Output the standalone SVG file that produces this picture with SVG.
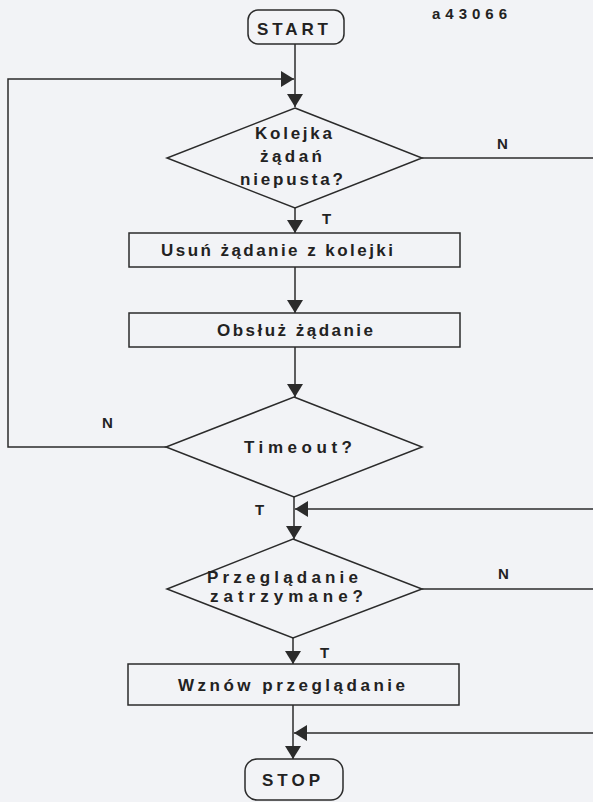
<svg xmlns="http://www.w3.org/2000/svg" width="593" height="802" viewBox="0 0 593 802">
  <defs>
    <marker id="arr" markerUnits="userSpaceOnUse" markerWidth="14" markerHeight="16" refX="13" refY="8" orient="auto">
      <path d="M0,0 L13,8 L0,16 z" fill="#2b2b2b"/>
    </marker>
    <style>
      .shape { fill: none; stroke: #2b2b2b; stroke-width: 1.5; }
      .conn { fill: none; stroke: #2b2b2b; stroke-width: 1.5; }
      .t { font-family: "Liberation Sans", Arial, sans-serif; font-weight: bold; fill: #222; font-size: 17px; }
      .big { font-size: 17px; }
      .lab { font-size: 15px; }
    </style>
  </defs>
  <rect x="0" y="0" width="593" height="802" fill="#f2f3f6"/>
  <text class="t lab" x="432" y="19" textLength="75" lengthAdjust="spacing">a43066</text>

  <g id="connectors">
    <path class="conn" d="M295,44 V107" marker-end="url(#arr)"/>
    <path class="conn" d="M166,447 H8 V79 H294" marker-end="url(#arr)"/>
    <path class="conn" d="M422,158 H593"/>
    <path class="conn" d="M295,208 V233" marker-end="url(#arr)"/>
    <path class="conn" d="M295,267 V313" marker-end="url(#arr)"/>
    <path class="conn" d="M295,347 V397" marker-end="url(#arr)"/>
    <path class="conn" d="M294,497 V539" marker-end="url(#arr)"/>
    <path class="conn" d="M593,509 H295" marker-end="url(#arr)"/>
    <path class="conn" d="M422,589 H593"/>
    <path class="conn" d="M293,638 V664" marker-end="url(#arr)"/>
    <path class="conn" d="M293,705 V759" marker-end="url(#arr)"/>
    <path class="conn" d="M593,733 H294" marker-end="url(#arr)"/>
    <text class="t lab" x="497" y="149">N</text>
    <text class="t lab" x="322" y="224">T</text>
    <text class="t lab" x="102" y="428">N</text>
    <text class="t lab" x="255" y="515">T</text>
    <text class="t lab" x="498" y="579">N</text>
    <text class="t lab" x="320" y="658">T</text>
  </g>

  <g id="start">
    <rect class="shape" x="248" y="10" width="96" height="34" rx="10"/>
    <text class="t big" x="257" y="35" textLength="71" lengthAdjust="spacing">START</text>
  </g>

  <g id="kolejka">
    <polygon class="shape" points="295,108 422,158 295,208 167,158"/>
    <text class="t" x="255" y="139" textLength="77" lengthAdjust="spacing">Kolejka</text>
    <text class="t" x="260" y="162" textLength="62" lengthAdjust="spacing">żądań</text>
    <text class="t" x="240" y="185" textLength="103" lengthAdjust="spacing">niepusta?</text>
  </g>

  <g id="usun">
    <rect class="shape" x="129" y="233" width="331" height="34"/>
    <text class="t" x="161" y="256" textLength="232" lengthAdjust="spacing">Usuń żądanie z kolejki</text>
  </g>

  <g id="obsluz">
    <rect class="shape" x="129" y="313" width="331" height="34"/>
    <text class="t" x="217" y="336" textLength="156" lengthAdjust="spacing">Obsłuż żądanie</text>
  </g>

  <g id="timeout">
    <polygon class="shape" points="294,397 422,447 294,497 166,447"/>
    <text class="t" x="244" y="453" textLength="108" lengthAdjust="spacing">Timeout?</text>
  </g>

  <g id="przegladanie">
    <polygon class="shape" points="293,539 422,589 293,638 167,589"/>
    <text class="t" x="207" y="583" textLength="151" lengthAdjust="spacing">Przeglądanie</text>
    <text class="t" x="210" y="602" textLength="153" lengthAdjust="spacing">zatrzymane?</text>
  </g>

  <g id="wznow">
    <rect class="shape" x="128" y="664" width="331" height="41"/>
    <text class="t" x="178" y="691" textLength="227" lengthAdjust="spacing">Wznów przeglądanie</text>
  </g>

  <g id="stop">
    <rect class="shape" x="245" y="759" width="98" height="41" rx="12"/>
    <text class="t big" x="262" y="786" textLength="58" lengthAdjust="spacing">STOP</text>
  </g>
</svg>
